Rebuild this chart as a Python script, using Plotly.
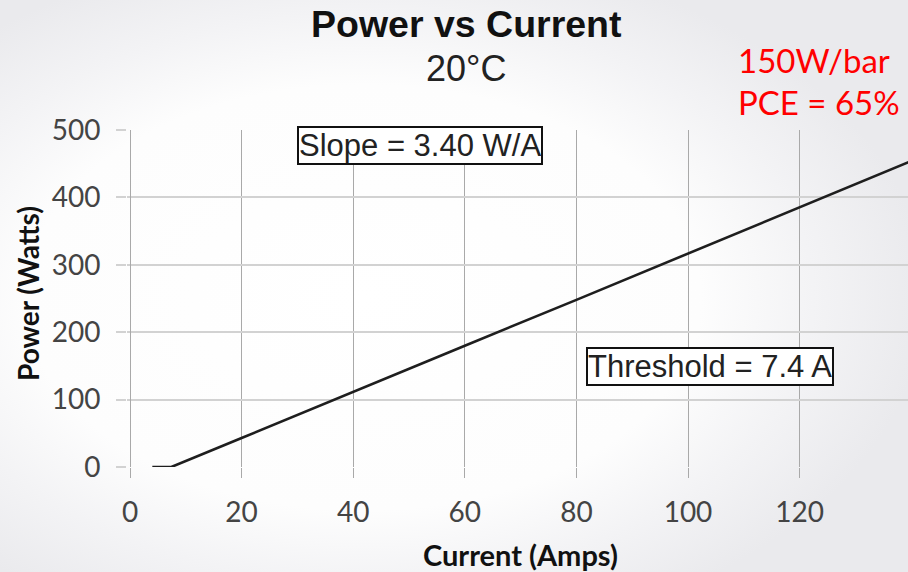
import base64
import plotly.graph_objects as go

# Measured output power of the bar at 20 °C
current_amps = [4, 7.4, 20, 40, 60, 80, 100, 120, 140]
power_watts = [0, 0, 43, 112, 180, 248, 317, 386, 454]

x_ticks = [0, 20, 40, 60, 80, 100, 120]
y_ticks = [0, 100, 200, 300, 400, 500]

title_text = "Power vs Current"
subtitle_text = "20°C"
spec_lines = ["150W/bar", "PCE = 65%"]
slope_text = "Slope = 3.40 W/A"
threshold_text = "Threshold = 7.4 A"
x_title = "Current (Amps)"
y_title = "Power (Watts)"

# Figure geometry (pixels)
W, H = 908, 572
X0_PIX = 130          # pixel column of 0 A
L, R, T, B = 127, 0, 130, 105
PW, PH = W - L - R, H - T - B
X_SCALE = 5.58        # pixels per amp
X_START = -(X0_PIX - L) / X_SCALE  # small left pad so the 0 A gridline is drawn

GRID_X = "#a9a9a9"
GRID_Y = "#d2d2d2"


def px(xpix):
    return (xpix - L) / PW


def py(ypix):
    return (H - B - ypix) / PH


# Soft radial background
svg = f"""<svg xmlns='http://www.w3.org/2000/svg' width='{W}' height='{H}' viewBox='0 0 {W} {H}' preserveAspectRatio='none'>
<defs><radialGradient id='g' cx='0.40' cy='0.52' r='0.62'>
<stop offset='0' stop-color='#ffffff'/>
<stop offset='0.60' stop-color='#fdfdfd'/>
<stop offset='0.80' stop-color='#f3f3f5'/>
<stop offset='1' stop-color='#eaeaed'/>
</radialGradient></defs>
<rect width='{W}' height='{H}' fill='url(#g)'/></svg>"""
bg_src = "data:image/svg+xml;base64," + base64.b64encode(svg.encode()).decode()

fig = go.Figure()
fig.add_trace(go.Scatter(
    x=current_amps, y=power_watts, mode="lines",
    line=dict(color="#1e1e1e", width=2.6),
    showlegend=False, hoverinfo="x+y",
))

calibri_like = "Lato, 'Open Sans', sans-serif"
arial_like = "'Liberation Sans', Arial, sans-serif"

annotations = [
    dict(text=f"<b>{title_text}</b>", x=px(466), y=py(24), xref="paper", yref="paper",
         xanchor="center", yanchor="middle", showarrow=False,
         font=dict(family=arial_like, size=37.5, color="#111111")),
    dict(text=subtitle_text, x=px(466), y=py(68), xref="paper", yref="paper",
         xanchor="center", yanchor="middle", showarrow=False,
         font=dict(family=arial_like, size=36, color="#222222")),
    dict(text=spec_lines[0], x=px(736), y=py(60), xref="paper", yref="paper",
         xanchor="left", yanchor="middle", showarrow=False,
         font=dict(family=calibri_like, size=33, color="#ff0000")),
    dict(text=spec_lines[1], x=px(736), y=py(102), xref="paper", yref="paper",
         xanchor="left", yanchor="middle", showarrow=False,
         font=dict(family=calibri_like, size=33, color="#ff0000")),
    dict(text=f"<b>{x_title}</b>", x=px(520), y=py(554), xref="paper", yref="paper",
         xanchor="center", yanchor="middle", showarrow=False,
         font=dict(family=calibri_like, size=29, color="#111111")),
    dict(text=f"<b>{y_title}</b>", x=px(28), y=py(294), xref="paper", yref="paper",
         xanchor="center", yanchor="middle", showarrow=False, textangle=-90,
         font=dict(family=calibri_like, size=28, color="#111111")),
    dict(text=slope_text, x=52, y=477, xref="x", yref="y",
         xanchor="center", yanchor="middle", showarrow=False,
         bgcolor="#ffffff", bordercolor="#111111", borderwidth=2, borderpad=0,
         font=dict(family=arial_like, size=31, color="#222222")),
    dict(text=threshold_text, x=104, y=149, xref="x", yref="y",
         xanchor="center", yanchor="middle", showarrow=False,
         bgcolor="#ffffff", bordercolor="#111111", borderwidth=2, borderpad=0,
         font=dict(family=arial_like, size=31, color="#222222")),
]

fig.update_layout(
    width=W, height=H,
    margin=dict(l=L, r=R, t=T, b=B, pad=0),
    paper_bgcolor="#f4f4f6",
    plot_bgcolor="rgba(0,0,0,0)",
    annotations=annotations,
    images=[dict(source=bg_src, xref="paper", yref="paper",
                 x=px(0), y=py(0), sizex=W / PW, sizey=H / PH,
                 xanchor="left", yanchor="top", sizing="stretch", layer="below")],
    xaxis=dict(
        range=[X_START, X_START + PW / X_SCALE],
        tickvals=x_ticks, ticktext=[str(v) for v in x_ticks],
        showgrid=True, gridcolor=GRID_X, gridwidth=1,
        ticks="outside", ticklen=10, tickcolor=GRID_X, tickwidth=1,
        showline=False, zeroline=True, zerolinecolor=GRID_X, zerolinewidth=1,
        ticklabelstandoff=10,
        tickfont=dict(family=calibri_like, size=28, color="#444444"),
        fixedrange=True,
    ),
    yaxis=dict(
        range=[0, 500], tickvals=y_ticks, ticktext=[str(v) for v in y_ticks],
        showgrid=True, gridcolor=GRID_Y, gridwidth=2,
        ticks="outside", ticklen=10, tickcolor=GRID_Y, tickwidth=2,
        showline=False, zeroline=False, ticklabelstandoff=10,
        tickfont=dict(family=calibri_like, size=28, color="#444444"),
        fixedrange=True,
    ),
    showlegend=False,
)

fig.write_html("out.html", config={"displayModeBar": False})
